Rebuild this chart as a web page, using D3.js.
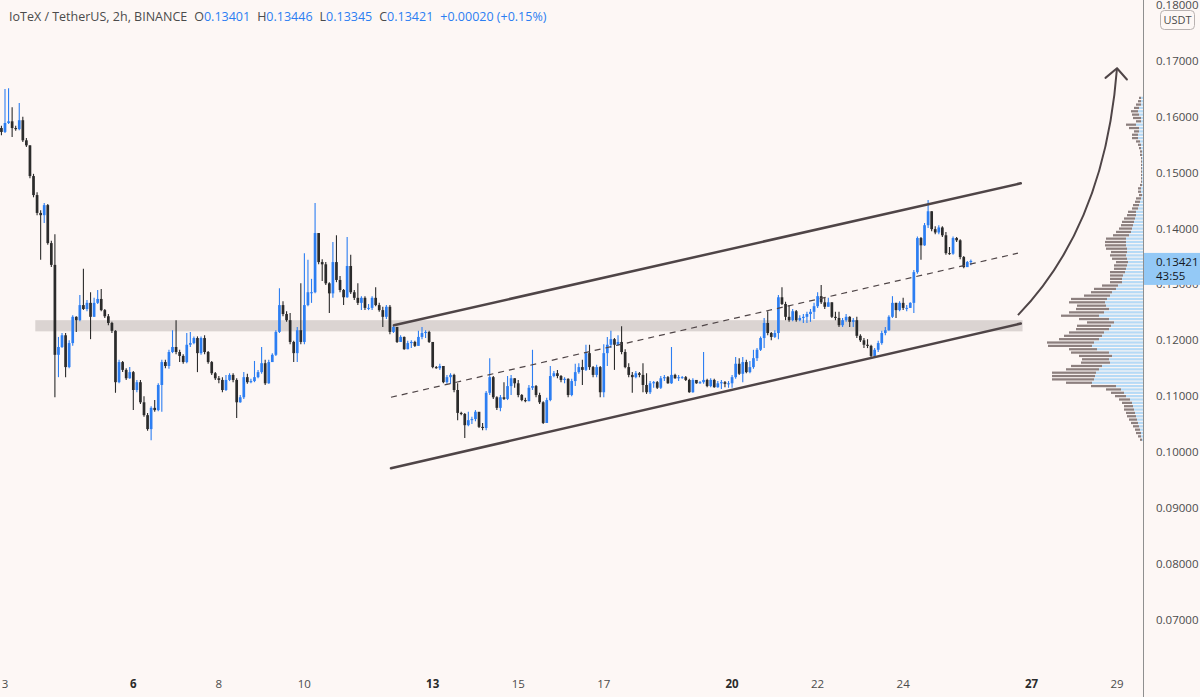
<!DOCTYPE html>
<html>
<head>
<meta charset="utf-8">
<script src="https://cdn.jsdelivr.net/npm/d3@7"></script>
<style>
  body { margin: 0; background: #fdf7f5; }
  svg { display: block; }
</style>
</head>
<body>
<div id="chart"></div>
<script>
// IOTX/USDT 2h candles (open = previous close)
const firstOpen = 0.1580;
const closes = [
  0.1573,0.1589,0.1592,0.1580,0.1578,0.1594,0.1558,0.1549,0.1494,0.1460,
  0.1428,0.1424,0.1442,0.1374,0.1335,0.1174,0.1188,0.1209,0.1152,0.1195,
  0.1242,0.1236,0.1263,0.1256,0.1267,0.1242,0.1267,0.1274,0.1254,0.1243,
  0.1231,0.1217,0.1125,0.1161,0.1147,0.1132,0.1143,0.1111,0.1125,0.1089,
  0.1066,0.1041,0.1079,0.1075,0.1120,0.1161,0.1154,0.1179,0.1188,0.1179,
  0.1172,0.1161,0.1192,0.1195,0.1204,0.1177,0.1204,0.1179,0.1161,0.1141,
  0.1132,0.1129,0.1111,0.1129,0.1138,0.1129,0.1089,0.1098,0.1134,0.1125,
  0.1127,0.1134,0.1143,0.1159,0.1123,0.1161,0.1174,0.1215,0.1263,0.1247,
  0.1236,0.1197,0.1177,0.1218,0.1197,0.1263,0.1286,0.1286,0.1392,0.1340,
  0.1336,0.1302,0.1284,0.1340,0.1308,0.1290,0.1277,0.1333,0.1286,0.1276,
  0.1267,0.1276,0.1258,0.1258,0.1276,0.1263,0.1254,0.1242,0.1260,0.1215,
  0.1224,0.1197,0.1206,0.1184,0.1195,0.1197,0.1190,0.1206,0.1213,0.1215,
  0.1197,0.1152,0.1150,0.1154,0.1125,0.1134,0.1138,0.1111,0.1070,0.1068,
  0.1048,0.1057,0.1059,0.1072,0.1045,0.1043,0.1106,0.1134,0.1098,0.1079,
  0.1098,0.1095,0.1118,0.1132,0.1123,0.1102,0.1093,0.1091,0.1115,0.1118,
  0.1102,0.1089,0.1052,0.1093,0.1136,0.1141,0.1136,0.1129,0.1131,0.1102,
  0.1127,0.1143,0.1152,0.1147,0.1177,0.1152,0.1138,0.1152,0.1107,0.1177,
  0.1192,0.1202,0.1192,0.1197,0.1179,0.1152,0.1138,0.1134,0.1141,0.1138,
  0.1120,0.1107,0.1123,0.1125,0.1115,0.1132,0.1134,0.1123,0.1138,0.1132,
  0.1134,0.1134,0.1129,0.1107,0.1129,0.1123,0.1125,0.1129,0.1118,0.1129,
  0.1116,0.1123,0.1125,0.1122,0.1123,0.1134,0.1158,0.1140,0.1161,0.1143,
  0.1152,0.1168,0.1183,0.1204,0.1231,0.1213,0.1206,0.1213,0.1277,0.1265,
  0.1242,0.1236,0.1252,0.1236,0.1240,0.1242,0.1247,0.1251,0.1261,0.1279,
  0.1268,0.1260,0.1268,0.1242,0.1240,0.1227,0.1236,0.1242,0.1233,0.1236,
  0.1208,0.1200,0.1192,0.1190,0.1172,0.1183,0.1195,0.1213,0.1218,0.1242,
  0.1267,0.1254,0.1267,0.1258,0.1258,0.1267,0.1322,0.1383,0.1370,0.1406,
  0.1431,0.1399,0.1393,0.1402,0.1388,0.1356,0.1355,0.1383,0.1379,0.1349,
  0.1331,0.13401,0.13421
];
const highs = [
  0.1584,0.1650,0.1651,0.1617,0.1584,0.1625,0.1600,0.1562,0.1549,0.1498,
  0.1465,0.1433,0.1446,0.1444,0.1378,0.1390,0.1206,0.1213,0.1213,0.1200,
  0.1245,0.1243,0.1281,0.1328,0.1272,0.1286,0.1276,0.1290,0.1292,0.1256,
  0.1247,0.1233,0.1218,0.1165,0.1163,0.1150,0.1152,0.1145,0.1129,0.1129,
  0.1100,0.1070,0.1082,0.1093,0.1123,0.1165,0.1165,0.1183,0.1218,0.1236,
  0.1183,0.1175,0.1213,0.1215,0.1207,0.1207,0.1207,0.1209,0.1181,0.1163,
  0.1143,0.1136,0.1134,0.1138,0.1141,0.1141,0.1132,0.1102,0.1143,0.1140,
  0.1131,0.1163,0.1147,0.1188,0.1165,0.1165,0.1177,0.1218,0.1293,0.1270,
  0.1252,0.1249,0.1199,0.1224,0.1302,0.1356,0.1344,0.1310,0.1446,0.1392,
  0.1345,0.1340,0.1304,0.1376,0.1388,0.1315,0.1292,0.1385,0.1353,0.1290,
  0.1302,0.1279,0.1279,0.1265,0.1279,0.1295,0.1267,0.1260,0.1263,0.1263,
  0.1227,0.1220,0.1209,0.1207,0.1199,0.1200,0.1199,0.1217,0.1224,0.1218,
  0.1217,0.1197,0.1154,0.1158,0.1154,0.1138,0.1141,0.1140,0.1123,0.1072,
  0.1070,0.1072,0.1063,0.1075,0.1059,0.1052,0.1109,0.1168,0.1136,0.1100,
  0.1102,0.1125,0.1136,0.1138,0.1132,0.1129,0.1104,0.1097,0.1120,0.1183,
  0.1120,0.1106,0.1091,0.1097,0.1154,0.1145,0.1147,0.1138,0.1134,0.1132,
  0.1131,0.1158,0.1159,0.1165,0.1192,0.1192,0.1154,0.1156,0.1154,0.1193,
  0.1206,0.1217,0.1204,0.1209,0.1225,0.1184,0.1159,0.1143,0.1145,0.1143,
  0.1159,0.1141,0.1127,0.1127,0.1127,0.1136,0.1138,0.1136,0.1188,0.1140,
  0.1138,0.1136,0.1136,0.1131,0.1132,0.1127,0.1127,0.1179,0.1131,0.1132,
  0.1131,0.1127,0.1129,0.1127,0.1127,0.1138,0.1170,0.1168,0.1170,0.1165,
  0.1163,0.1183,0.1186,0.1207,0.1240,0.1252,0.1215,0.1218,0.1281,0.1295,
  0.1269,0.1263,0.1256,0.1254,0.1245,0.1247,0.1251,0.1256,0.1267,0.1286,
  0.1299,0.1276,0.1276,0.1268,0.1251,0.1251,0.1240,0.1247,0.1243,0.1240,
  0.1242,0.1211,0.1204,0.1202,0.1192,0.1186,0.1199,0.1217,0.1224,0.1245,
  0.1279,0.1267,0.1270,0.1276,0.1263,0.1268,0.1326,0.1386,0.1385,0.1410,
  0.1451,0.1431,0.1404,0.1406,0.1404,0.1394,0.1367,0.1386,0.1385,0.1381,
  0.1351,0.1342,0.13446
];
const lows = [
  0.1567,0.1571,0.1587,0.1564,0.1575,0.1576,0.1555,0.1546,0.1490,0.1456,
  0.1424,0.1344,0.1410,0.1371,0.1331,0.1098,0.1134,0.1186,0.1134,0.1150,
  0.1190,0.1215,0.1234,0.1254,0.1252,0.1202,0.1242,0.1265,0.1252,0.1240,
  0.1227,0.1213,0.1106,0.1123,0.1143,0.1129,0.1131,0.1075,0.1107,0.1086,
  0.1063,0.1038,0.1021,0.1072,0.1073,0.1072,0.1150,0.1149,0.1177,0.1175,
  0.1161,0.1158,0.1159,0.1188,0.1193,0.1143,0.1174,0.1175,0.1158,0.1138,
  0.1129,0.1123,0.1107,0.1109,0.1127,0.1125,0.1061,0.1088,0.1095,0.1122,
  0.1123,0.1125,0.1132,0.1140,0.1120,0.1122,0.1161,0.1172,0.1213,0.1243,
  0.1233,0.1193,0.1161,0.1161,0.1193,0.1193,0.1261,0.1267,0.1284,0.1336,
  0.1306,0.1299,0.1249,0.1276,0.1304,0.1286,0.1263,0.1276,0.1283,0.1272,
  0.1263,0.1254,0.1254,0.1254,0.1254,0.1261,0.1251,0.1224,0.1238,0.1211,
  0.1213,0.1195,0.1197,0.1183,0.1184,0.1186,0.1188,0.1190,0.1202,0.1204,
  0.1195,0.1150,0.1149,0.1147,0.1123,0.1122,0.1122,0.1107,0.1057,0.1066,
  0.1025,0.1046,0.1050,0.1055,0.1043,0.1039,0.1039,0.1102,0.1095,0.1075,
  0.1073,0.1093,0.1093,0.1102,0.1115,0.1098,0.1091,0.1089,0.1091,0.1111,
  0.1098,0.1086,0.1050,0.1052,0.1091,0.1134,0.1132,0.1125,0.1123,0.1098,
  0.1100,0.1118,0.1140,0.1120,0.1145,0.1147,0.1134,0.1134,0.1098,0.1098,
  0.1154,0.1186,0.1147,0.1190,0.1175,0.1150,0.1134,0.1106,0.1132,0.1134,
  0.1107,0.1104,0.1104,0.1115,0.1113,0.1113,0.1127,0.1122,0.1122,0.1131,
  0.1127,0.1131,0.1127,0.1106,0.1106,0.1122,0.1122,0.1122,0.1116,0.1116,
  0.1115,0.1115,0.1113,0.1116,0.1115,0.1115,0.1131,0.1138,0.1125,0.1141,
  0.1141,0.1149,0.1163,0.1181,0.1186,0.1209,0.1200,0.1204,0.1202,0.1263,
  0.1236,0.1233,0.1234,0.1233,0.1234,0.1231,0.1231,0.1233,0.1238,0.1258,
  0.1265,0.1256,0.1260,0.1240,0.1236,0.1224,0.1224,0.1233,0.1224,0.1224,
  0.1204,0.1197,0.1186,0.1186,0.1168,0.1170,0.1179,0.1192,0.1209,0.1217,
  0.1240,0.1240,0.1252,0.1254,0.1252,0.1258,0.1249,0.1319,0.1344,0.1369,
  0.1401,0.1395,0.1390,0.1390,0.1385,0.1353,0.1353,0.1353,0.1376,0.1345,
  0.1329,0.1331,0.13345
];
const firstCandle = Date.UTC(2021, 8, 2, 22);   // 2 Sep 2021 22:00
const barMs = 2 * 3600 * 1000;

const dayTicks = [3, 6, 8, 10, 13, 15, 17, 20, 22, 24, 27, 29];
const weekDays = [6, 13, 20, 27];
const priceTicks = [0.07, 0.08, 0.09, 0.10, 0.11, 0.12, 0.13, 0.14, 0.15, 0.16, 0.17, 0.18];

// visible range volume profile, rows from the top price down
const profileTop = 0.1633;
const profileStep = 0.0006;
const profileUp = [
  2,2,2,4,5,4,2,2,7,4,4,5,5,3,2,2,1,1,1,1,1,1,1,1,1,1,1,2,2,1,
  2,3,4,5,7,7,8,9,10,11,12,14,17,17,17,16,16,17,16,15,16,17,18,20,21,21,25,27,31,33,
  36,38,37,34,39,44,34,29,32,34,39,41,44,49,51,46,34,31,34,33,41,44,47,48,49,51,27,22,19,17,
  13,11,10,9,8,7,6,5,4,3,2,2,1
];
const profileDown = [
  2,3,5,5,7,7,8,5,10,10,5,6,6,4,3,2,2,2,1,1,1,1,1,1,1,1,2,3,3,3,
  5,5,6,6,8,9,11,12,12,13,15,16,20,21,21,21,16,16,15,12,13,12,15,13,12,12,16,22,21,26,
  36,36,29,33,35,38,30,27,34,33,35,38,40,47,44,28,38,33,27,29,31,33,44,43,42,26,25,15,13,11,
  11,10,9,10,9,9,8,7,6,5,5,3,2
];

// drawings on the chart
const supportBand = { t0: Date.UTC(2021, 8, 3, 17), t1: Date.UTC(2021, 8, 26, 19), p0: 0.1236, p1: 0.1216 };
const channelUpper = [{ t: Date.UTC(2021, 8, 12, 2, 15), p: 0.1227 }, { t: Date.UTC(2021, 8, 26, 18), p: 0.1481 }];
const channelLower = [{ t: Date.UTC(2021, 8, 12, 0, 35), p: 0.0971 }, { t: Date.UTC(2021, 8, 26, 18), p: 0.1230 }];
const channelMid = [{ t: Date.UTC(2021, 8, 12, 0, 35), p: 0.1098 }, { t: Date.UTC(2021, 8, 26, 16, 25), p: 0.1356 }];
const arrowPath = [
  { t: Date.UTC(2021, 8, 26, 16, 25), p: 0.1245 },
  { t: Date.UTC(2021, 8, 28, 17, 15), p: 0.1406 },
  { t: Date.UTC(2021, 8, 29, 0, 0), p: 0.1687 }
];

const W = 1200, H = 697;
const axisX = 1143;
const plotBottom = 672;
const bg = '#fdf7f5';
const upColor = '#2c7ef2';
const downColor = '#2b2b2b';
const drawColor = '#4f4547';

const candles = closes.map((c, i) => ({
  t: firstCandle + i * barMs,
  o: i === 0 ? firstOpen : closes[i - 1],
  h: highs[i],
  l: lows[i],
  c: c
}));

const x = d3.scaleUtc()
  .domain([Date.UTC(2021, 8, 3), Date.UTC(2021, 8, 29)])
  .range([5, 1117]);
const y = d3.scaleLinear()
  .domain([0.10, 0.17])
  .range([452, 61]);

const svg = d3.select('#chart').append('svg')
  .attr('width', W)
  .attr('height', H)
  .style('font-family', '"Open Sans", "Noto Sans", sans-serif');

svg.append('rect').attr('width', W).attr('height', H).attr('fill', bg);

svg.append('clipPath').attr('id', 'plot')
  .append('rect').attr('width', axisX).attr('height', plotBottom);

const plot = svg.append('g').attr('clip-path', 'url(#plot)');

// support band
plot.append('rect')
  .attr('x', x(supportBand.t0))
  .attr('y', y(supportBand.p0))
  .attr('width', x(supportBand.t1) - x(supportBand.t0))
  .attr('height', y(supportBand.p1) - y(supportBand.p0))
  .attr('fill', '#dbd4d2');

// volume profile
const maxVol = d3.max(profileUp, (u, i) => u + profileDown[i]);
const vx = d3.scaleLinear().domain([0, maxVol]).range([0, 96]);
const rowH = Math.abs(y(0) - y(profileStep));
const rows = profileUp.map((u, i) => ({ p: profileTop - i * profileStep, up: u, down: profileDown[i] }));

const prof = plot.append('g');
prof.selectAll('rect.up')
  .data(rows)
  .join('rect')
  .attr('class', 'up')
  .attr('x', d => axisX - vx(d.up))
  .attr('y', d => y(d.p) - rowH / 2)
  .attr('width', d => vx(d.up))
  .attr('height', rowH - 1.1)
  .attr('fill', '#b6daf6');
prof.selectAll('rect.down')
  .data(rows)
  .join('rect')
  .attr('class', 'down')
  .attr('x', d => axisX - vx(d.up + d.down))
  .attr('y', d => y(d.p) - rowH / 2)
  .attr('width', d => vx(d.down))
  .attr('height', rowH - 1.1)
  .attr('fill', '#8c7f7e');

// candles
const bw = 2.7;
const cg = plot.append('g');
cg.selectAll('line')
  .data(candles)
  .join('line')
  .attr('x1', d => x(d.t))
  .attr('x2', d => x(d.t))
  .attr('y1', d => y(d.h))
  .attr('y2', d => y(d.l))
  .attr('stroke', d => d.c >= d.o ? upColor : downColor)
  .attr('stroke-width', 1.1);
cg.selectAll('rect')
  .data(candles)
  .join('rect')
  .attr('x', d => x(d.t) - bw / 2)
  .attr('y', d => y(Math.max(d.o, d.c)))
  .attr('width', bw)
  .attr('height', d => Math.max(1, Math.abs(y(d.o) - y(d.c))))
  .attr('fill', d => d.c >= d.o ? upColor : downColor);

// channel
const seg = d3.line().x(d => x(d.t)).y(d => y(d.p));
[channelUpper, channelLower].forEach(pts => {
  plot.append('path')
    .attr('d', seg(pts))
    .attr('stroke', drawColor)
    .attr('stroke-width', 2.5)
    .attr('stroke-linecap', 'round')
    .attr('fill', 'none');
});
plot.append('path')
  .attr('d', seg(channelMid))
  .attr('stroke', drawColor)
  .attr('stroke-width', 1.2)
  .attr('stroke-dasharray', '6,5')
  .attr('fill', 'none');

// curved arrow
const [a0, a1, a2] = arrowPath.map(d => [x(d.t), y(d.p)]);
const curve = d3.path();
curve.moveTo(a0[0], a0[1]);
curve.quadraticCurveTo(a1[0], a1[1], a2[0], a2[1]);
plot.append('path')
  .attr('d', curve.toString())
  .attr('stroke', drawColor)
  .attr('stroke-width', 2)
  .attr('fill', 'none');
const ang = Math.atan2(a2[1] - a1[1], a2[0] - a1[0]);
const head = d3.path();
[0.8, -0.8].forEach(off => {
  head.moveTo(a2[0] - 15 * Math.cos(ang + off), a2[1] - 15 * Math.sin(ang + off));
  head.lineTo(a2[0], a2[1]);
});
plot.append('path')
  .attr('d', head.toString())
  .attr('stroke', drawColor)
  .attr('stroke-width', 2)
  .attr('stroke-linecap', 'round')
  .attr('stroke-linejoin', 'round')
  .attr('fill', 'none');

// right price axis
svg.append('line')
  .attr('x1', axisX + 0.5).attr('x2', axisX + 0.5)
  .attr('y1', 0).attr('y2', H)
  .attr('stroke', '#8f8f8f');

const fmt = d3.format('.5f');
svg.append('g').selectAll('text')
  .data(priceTicks)
  .join('text')
  .attr('x', 1156)
  .attr('y', d => y(d))
  .attr('dy', '0.35em')
  .attr('font-size', 11.5)
  .attr('fill', '#4b4b4b')
  .text(d => fmt(d));

// USDT unit badge
svg.append('rect')
  .attr('x', 1160.5).attr('y', 10.5)
  .attr('width', 34).attr('height', 19)
  .attr('rx', 4)
  .attr('fill', bg)
  .attr('stroke', '#b9b2b1');
svg.append('text')
  .attr('x', 1177.5).attr('y', 20)
  .attr('dy', '0.35em')
  .attr('text-anchor', 'middle')
  .attr('font-size', 11)
  .attr('fill', '#4b4b4b')
  .text('USDT');

// last price label
const last = candles[candles.length - 1];
const ly = y(last.c);
svg.append('rect')
  .attr('x', axisX + 1).attr('y', ly - 8)
  .attr('width', W - axisX).attr('height', 32)
  .attr('fill', '#94c9f6');
svg.append('text')
  .attr('x', 1156).attr('y', ly + 1)
  .attr('dy', '0.35em')
  .attr('font-size', 11.5)
  .attr('fill', '#131722')
  .text(fmt(last.c));
svg.append('text')
  .attr('x', 1156).attr('y', ly + 15)
  .attr('dy', '0.35em')
  .attr('font-size', 11.5)
  .attr('fill', '#131722')
  .text('43:55');

// time axis
svg.append('g').selectAll('text')
  .data(dayTicks)
  .join('text')
  .attr('x', d => x(Date.UTC(2021, 8, d)))
  .attr('y', 684)
  .attr('dy', '0.35em')
  .attr('text-anchor', 'middle')
  .attr('font-size', 11.5)
  .attr('font-weight', d => weekDays.includes(d) ? 700 : 400)
  .attr('fill', d => weekDays.includes(d) ? '#2b2b2b' : '#4b4b4b')
  .text(d => d);

// legend line
const legend = svg.append('text')
  .attr('x', 9).attr('y', 17)
  .attr('dy', '0.35em')
  .attr('font-size', 12.5)
  .attr('fill', '#4b4b4b');
legend.append('tspan').text('IoTeX / TetherUS, 2h, BINANCE');
const ohlc = [['O', last.o], ['H', last.h], ['L', last.l], ['C', last.c]];
ohlc.forEach(([k, v], i) => {
  legend.append('tspan').attr('dx', i === 0 ? 7 : 7).attr('fill', '#4b4b4b').text(k);
  legend.append('tspan').attr('fill', upColor).text(fmt(v));
});
const chg = last.c - last.o;
legend.append('tspan').attr('dx', 7).attr('fill', upColor)
  .text('+' + fmt(chg) + ' (+' + d3.format('.2f')(chg / last.o * 100) + '%)');
</script>
</body>
</html>
